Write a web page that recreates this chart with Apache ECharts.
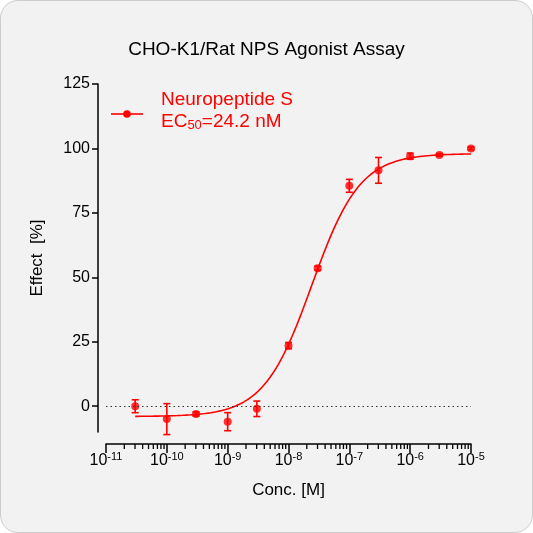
<!DOCTYPE html><html><head><meta charset="utf-8">
<script src="https://cdn.jsdelivr.net/npm/echarts@6/dist/echarts.min.js"></script>
<style>html,body{margin:0;background:#fff}#c{width:533px;height:533px;background:#f2f2f2;border:1px solid #ccc;border-radius:18px;box-sizing:border-box;overflow:hidden}</style>
</head><body><div id="c"></div><script>
const logConc=[-10.52,-10,-9.52,-9,-8.52,-8,-7.52,-7,-6.52,-6,-5.52,-5];
const effect=[0,-5,-3,-6,-1,23.5,53.5,85.5,91.5,97,97.5,100];
const errs=[2.5,6,0.8,3.5,3,1.2,0.8,2.5,5,1.2,0.5,0.5];
const fitBottom=-4, fitTop=98, fitLogEC50=-7.616, fitHill=1.1;
const xTicks=[-11,-10,-9,-8,-7,-6,-5];
const yTicks=[0,25,50,75,100,125];
const curve=[];
for(let i=0;i<=240;i++){const x=-10.52+i*(5.52/240);curve.push([x,fitBottom+(fitTop-fitBottom)/(1+Math.pow(10,(fitLogEC50-x)*fitHill))]);}
const minor=[];
for(let d=-11;d<-5;d++)for(let k=2;k<=9;k++)minor.push([d+Math.log10(k)]);
const ch=echarts.init(document.getElementById('c'));
const red='#ff0000';
ch.setOption({
 animation:false,
 title:{text:'CHO-K1/Rat NPS Agonist Assay',left:'center',top:34,textStyle:{fontFamily:'Liberation Sans',fontWeight:'normal',fontSize:19,color:'#000'}},
 grid:{left:105,right:61,top:83,bottom:100},
 xAxis:{type:'value',min:-11,max:-5,interval:1,offset:12,
  axisLine:{onZero:false,lineStyle:{color:'#000',width:1.5}},axisTick:{length:9,lineStyle:{color:'#000',width:1.5}},splitLine:{show:false},
  axisLabel:{margin:7,formatter:v=>'{b|10}{s|'+v+'}',rich:{b:{fontSize:16,fontFamily:'Liberation Sans',color:'#000'},s:{fontSize:11,fontFamily:'Liberation Sans',color:'#000',verticalAlign:'top',padding:[0,0,8,0]}}},
  name:'Conc. [M]',nameLocation:'middle',nameGap:38,nameTextStyle:{fontSize:17,fontFamily:'Liberation Sans',color:'#000'}},
 yAxis:{type:'value',min:-10,max:125,offset:8,
  axisLine:{show:true,onZero:false,lineStyle:{color:'#000',width:1.5}},axisTick:{show:true,length:6,lineStyle:{color:'#000',width:1.5},customValues:yTicks},
  axisLabel:{fontSize:16,fontFamily:'Liberation Sans',color:'#000',margin:8,customValues:yTicks},splitLine:{show:false},
  name:'Effect  [%]',nameLocation:'middle',nameGap:52,nameTextStyle:{fontSize:17,fontFamily:'Liberation Sans',color:'#000'}},
 series:[
  {type:'line',data:curve,showSymbol:false,lineStyle:{color:red,width:1.6},silent:true,
   markLine:{symbol:'none',silent:true,label:{show:false},lineStyle:{color:'#333',type:[1.5,3],width:1.2},data:[[{coord:[-11,0]},{coord:[-5,0]}]]}},
  {type:'custom',data:logConc.map((x,i)=>[x,effect[i],errs[i]]),renderItem:(p,api)=>{
    const x=api.value(0),y=api.value(1),e=api.value(2);
    const a=api.coord([x,y+e]),b=api.coord([x,y-e]);const w=3.5;
    return {type:'group',children:[
     {type:'line',shape:{x1:a[0],y1:a[1],x2:b[0],y2:b[1]},style:{stroke:red,lineWidth:1.6}},
     {type:'line',shape:{x1:a[0]-w,y1:a[1],x2:a[0]+w,y2:a[1]},style:{stroke:red,lineWidth:1.6}},
     {type:'line',shape:{x1:b[0]-w,y1:b[1],x2:b[0]+w,y2:b[1]},style:{stroke:red,lineWidth:1.6}}]};}},
  {type:'scatter',data:logConc.map((x,i)=>[x,effect[i]]),symbolSize:8,itemStyle:{color:red}},
  {type:'custom',data:minor,clip:false,renderItem:(p,api)=>{
    const a=api.coord([api.value(0),-10]);
    return {type:'line',shape:{x1:a[0],y1:a[1]+12,x2:a[0],y2:a[1]+17},style:{stroke:'#000',lineWidth:1.3}};}}
 ],
 graphic:[
  {type:'line',shape:{x1:110,y1:113,x2:142,y2:113},style:{stroke:red,lineWidth:1.6}},
  {type:'circle',shape:{cx:126,cy:113,r:3.8},style:{fill:red}},
  {type:'text',left:160,top:89,style:{text:'Neuropeptide S',fill:red,fontSize:19,fontFamily:'Liberation Sans'}},
  {type:'text',left:160,top:111,style:{text:'{a|EC}{b|50}{a|=24.2 nM}',fill:red,rich:{a:{fontSize:19,fontFamily:'Liberation Sans',color:red},b:{fontSize:13,fontFamily:'Liberation Sans',color:red,verticalAlign:'bottom',padding:[8,0,0,0]}}}}
 ]
});
</script></body></html>
